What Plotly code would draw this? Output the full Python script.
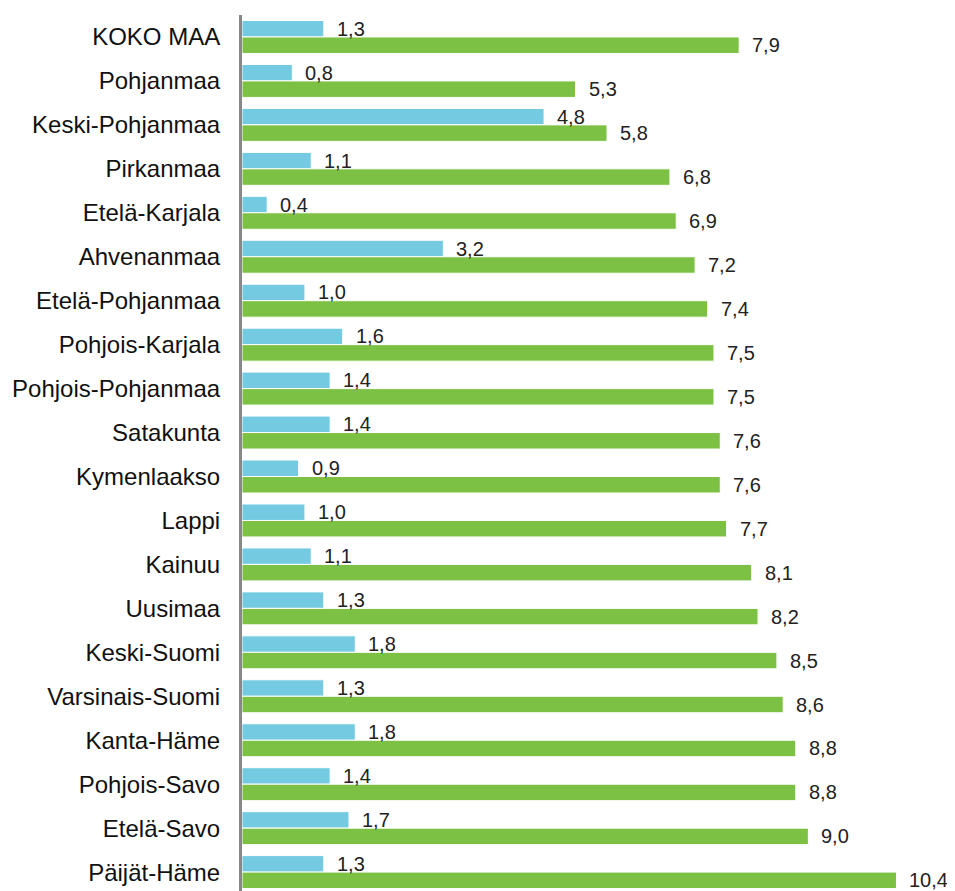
import plotly.graph_objects as go

regions = ['KOKO MAA', 'Pohjanmaa', 'Keski-Pohjanmaa', 'Pirkanmaa', 'Etelä-Karjala',
           'Ahvenanmaa', 'Etelä-Pohjanmaa', 'Pohjois-Karjala', 'Pohjois-Pohjanmaa',
           'Satakunta', 'Kymenlaakso', 'Lappi', 'Kainuu', 'Uusimaa', 'Keski-Suomi',
           'Varsinais-Suomi', 'Kanta-Häme', 'Pohjois-Savo', 'Etelä-Savo', 'Päijät-Häme']
blue_values = [1.3, 0.8, 4.8, 1.1, 0.4, 3.2, 1.0, 1.6, 1.4, 1.4,
               0.9, 1.0, 1.1, 1.3, 1.8, 1.3, 1.8, 1.4, 1.7, 1.3]
green_values = [7.9, 5.3, 5.8, 6.8, 6.9, 7.2, 7.4, 7.5, 7.5, 7.6,
                7.6, 7.7, 8.1, 8.2, 8.5, 8.6, 8.8, 8.8, 9.0, 10.4]


def fi(v):
    # Finnish decimal comma
    return f'{v:.1f}'.replace('.', ',')


fig = go.Figure()
fig.add_trace(go.Bar(y=regions, x=blue_values, orientation='h', name='blue',
                     marker=dict(color='#73CAE1', line=dict(color='white', width=1))))
fig.add_trace(go.Bar(y=regions, x=green_values, orientation='h', name='green',
                     marker=dict(color='#7CC143', line=dict(color='white', width=1))))

# value labels next to the bar ends (blue sits in the upper half of each group)
for vals, shift in [(blue_values, 8.25), (green_values, -8.25)]:
    for r, v in zip(regions, vals):
        fig.add_annotation(x=v, y=r, text=fi(v), showarrow=False, xanchor='left',
                           yanchor='middle', xshift=11, yshift=shift,
                           font=dict(size=20, color='#222222'))

# page body has an 8px margin, so the figure is 8px smaller than the window
fig.update_layout(
    width=947, height=883,
    barmode='group', bargap=0.25, bargroupgap=0,
    showlegend=False,
    plot_bgcolor='white', paper_bgcolor='white',
    margin=dict(l=234, r=0, t=7, b=0, autoexpand=False),
    font=dict(family='Liberation Sans, Arial, sans-serif', color='#111111'),
)
fig.update_xaxes(range=[0, 11.33], visible=False, showgrid=False, automargin=False)
fig.update_yaxes(range=[19.43, -0.5], showline=True, linecolor='#888888', linewidth=3,
                 showgrid=False, ticks='', ticklabelstandoff=14, automargin=False,
                 tickfont=dict(size=24, color='#111111'))

fig.write_html("out.html")
